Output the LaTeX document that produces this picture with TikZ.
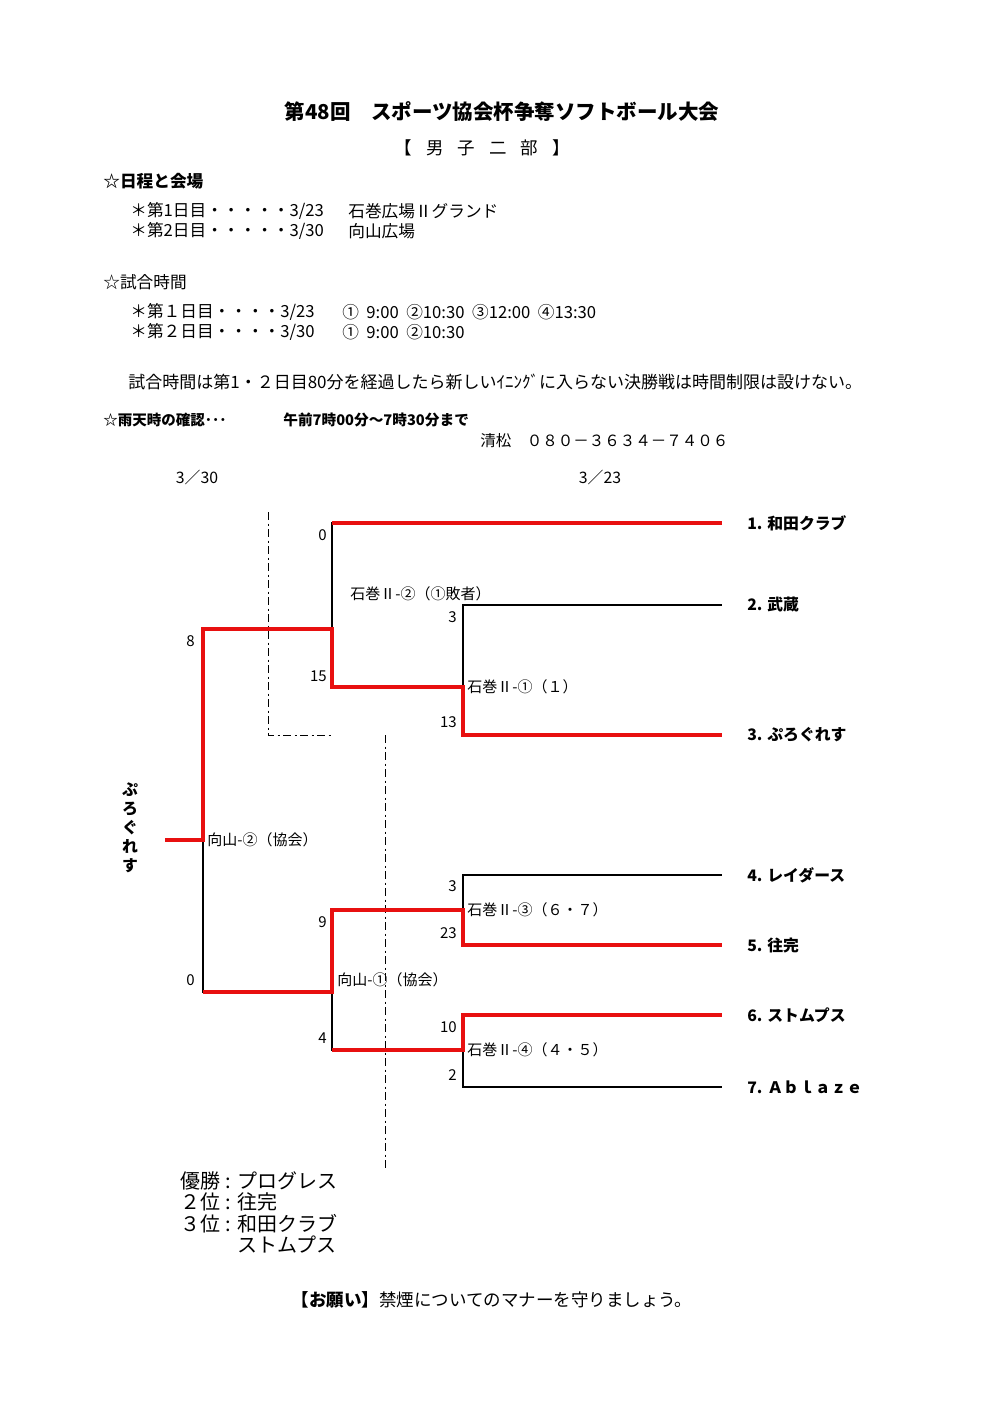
\documentclass[tikz,border=0pt]{standalone}
\usepackage{fontspec}
\setmainfont{Noto Sans CJK JP}
\definecolor{WinRed}{RGB}{232,16,16}
\usetikzlibrary{positioning}

\begin{document}
\begin{tikzpicture}[
        x=0.6pt, y=-0.6pt, font=\fontsize{9}{11}\selectfont,
        tx/.style={inner sep=0pt, anchor=west},
        sd/.style={tx, font=\fontsize{10}{12}\selectfont},
        sc/.style={inner sep=0pt, anchor=east},
        tm/.style={inner sep=0pt, font=\fontsize{9.5}{11}\selectfont\bfseries},
        ln/.style={line width=0.7pt},
        win/.style={line width=2.4pt, WinRed},
        dd/.style={line width=0.6pt, dash pattern=on 5pt off 2pt on 1.2pt off 2pt}
      ]
        \useasboundingbox (0,0) rectangle (992,1404);

        \node[font=\fontsize{12.3}{14}\selectfont\bfseries] (ttl) at (502,112) {第48回　スポーツ協会杯争奪ソフトボール大会};
        \node[font=\fontsize{10.5}{12}\selectfont] (sub) at (482,148) {\spaceskip=.8em 【 男 子 二 部 】};

        \node[tx, font=\fontsize{10}{12}\selectfont\bfseries] (h1) at (103,181) {☆日程と会場};
        \node[sd] (d1) at (130,211) {＊第1日目・・・・・3/23};
        \node[sd] (v1) at (348,211) {石巻広場Ⅱグランド};
        \node[sd] (d2) at (130,231) {＊第2日目・・・・・3/30};
        \node[sd] (v2) at (348,231) {向山広場};

        \node[tx, font=\fontsize{10}{12}\selectfont] (h2) at (103,282) {☆試合時間};
        \node[sd] (s1) at (130,312) {＊第１日目・・・・3/23};
        \node[sd] (g1) at (342,312) {①\ \ 9:00\ \ ②10:30\ \ ③12:00\ \ ④13:30};
        \node[sd] (s2) at (130,332) {＊第２日目・・・・3/30};
        \node[sd] (g2) at (342,332) {①\ \ 9:00\ \ ②10:30};

        \node[tx, font=\fontsize{10.2}{12}\selectfont] (nt) at (128,382) {試合時間は第1・２日目80分を経過したら新しいｲﾆﾝｸﾞに入らない決勝戦は時間制限は設けない。};

        \node[tx, font=\fontsize{8.7}{10}\selectfont\bfseries] (rn) at (103,420) {☆雨天時の確認･･･};
        \node[tx, font=\fontsize{8.8}{10}\selectfont\bfseries] (rt) at (283,420) {午前7時00分～7時30分まで};
        \node[tx, font=\fontsize{9.3}{11}\selectfont] (tel) at (480,441) {清松　０８０－３６３４－７４０６};

        \node[font=\fontsize{9.5}{11}\selectfont] (dA) at (197,477) {3／30};
        \node[font=\fontsize{9.5}{11}\selectfont] (dB) at (600,477) {3／23};

        % bracket
        \coordinate (t1) at (722,523);
        \coordinate (t2) at (722,605);
        \coordinate (t3) at (722,735);
        \coordinate (t4) at (722,875);
        \coordinate (t5) at (722,945);
        \coordinate (t6) at (722,1015);
        \coordinate (t7) at (722,1087);
        \coordinate (ish1) at (463,687);
        \coordinate (ish2) at (332,629);
        \coordinate (ish3) at (463,910);
        \coordinate (ish4) at (463,1050);
        \coordinate (muk1) at (332,992);
        \coordinate (fin)  at (203,840);
        \coordinate (champ) at (165,840);

        \node[tm, right=15pt of t1] (n1) {1. 和田クラブ};
        \node[tm, right=15pt of t2] (n2) {2. 武蔵};
        \node[tm, right=15pt of t3] (n3) {3. ぷろぐれす};
        \node[tm, right=15pt of t4] (n4) {4. レイダース};
        \node[tm, right=15pt of t5] (n5) {5. 往完};
        \node[tm, right=15pt of t6] (n6) {6. ストムプス};
        \node[tm, right=15pt of t7] (n7) {7. Ａｂｌａｚｅ};

        \coordinate (ga) at (268,512);
        \coordinate (gb) at (332,735);
        \coordinate (gc) at (385,735);
        \coordinate (gd) at (385,1170);
        \draw[dd] (ga) |- (gb);
        \draw[dd] (gc) -- (gd);

        \draw[ln] (ish2) |- (t1);
        \draw[ln] (ish1) |- (t2);
        \draw[ln] (ish3) |- (t4);
        \draw[ln] (ish4) |- (t7);
        \draw[ln] (fin) |- (muk1);
        \draw[ln] (muk1) |- (ish4);

        \draw[win] (ish2 |- t1) -- (t1);
        \draw[win] (champ) -- (fin) |- (ish2) |- (ish1) |- (t3);
        \draw[win] (fin |- muk1) -- (muk1) |- (ish3) |- (t5);
        \draw[win] (muk1 |- ish4) -- (ish4) |- (t6);

        \node[tx] (l2) at (350,594) {石巻Ⅱ-②（①敗者）};
        \node[tx] (l1) at (467,687) {石巻Ⅱ-①（１）};
        \node[tx] (lf) at (207,840) {向山-②（協会）};
        \node[tx] (l3) at (467,910) {石巻Ⅱ-③（６・７）};
        \node[tx] (lm) at (337,980) {向山-①（協会）};
        \node[tx] (l4) at (467,1050) {石巻Ⅱ-④（４・５）};

        \node[sc] (p1) at (327,535) {0};
        \node[sc] (p2) at (327,676) {15};
        \node[sc] (p3) at (457,617) {3};
        \node[sc] (p4) at (457,722) {13};
        \node[sc] (p5) at (195,641) {8};
        \node[sc] (p6) at (195,980) {0};
        \node[sc] (p7) at (327,922) {9};
        \node[sc] (p8) at (327,1038) {4};
        \node[sc] (p9) at (457,886) {3};
        \node[sc] (p10) at (457,933) {23};
        \node[sc] (p11) at (457,1027) {10};
        \node[sc] (p12) at (457,1075) {2};

        \node[inner sep=0pt, align=center, font=\fontsize{9.5}{11.4}\selectfont\bfseries] (vt) at (130,828) {ぷ\\ろ\\ぐ\\れ\\す};

        \node[tx, align=left, font=\fontsize{12}{12.8}\selectfont] (res) at (180,1213)
          {優勝\hspace{3pt}:\hspace{4pt}プログレス\\
           ２位\hspace{3pt}:\hspace{4pt}往完\\
           ３位\hspace{3pt}:\hspace{4pt}和田クラブ\\
           \phantom{３位}\hspace{3pt}\phantom{:}\hspace{4pt}ストムプス};

        \node[font=\fontsize{10.5}{12}\selectfont] (ft) at (492,1300) {\textbf{【お願い】}禁煙についてのマナーを守りましょう。};
      \end{tikzpicture}
\end{document}
